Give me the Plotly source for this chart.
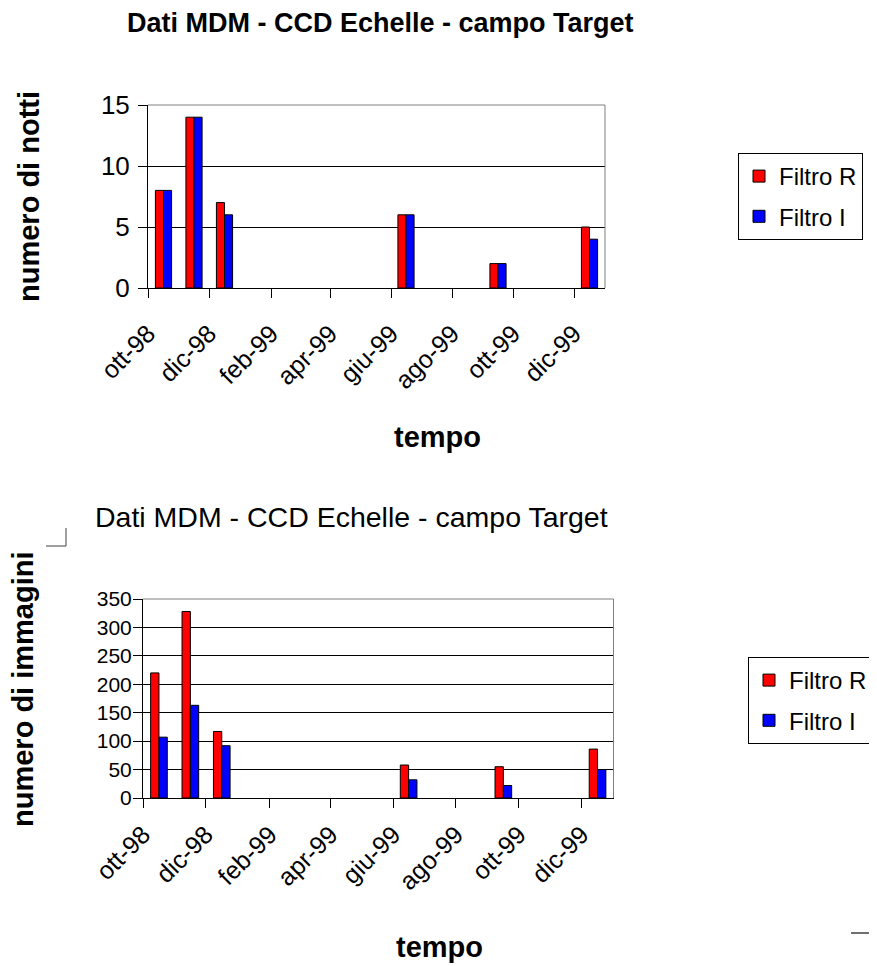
import plotly.graph_objects as go

# the page body adds an 8px margin, so the figure starts at (8, 8) on the page
OFF = 8
W, H = 877 - OFF, 966 - OFF

# ---------------- data ----------------
bar_months = ["1998-10-01", "1998-11-01", "1998-12-01", "1999-06-01", "1999-09-01", "1999-12-01"]
notti_R = [8, 14, 7, 6, 2, 5]
notti_I = [8, 14, 6, 6, 2, 4]
immagini_R = [220, 328, 117, 58, 55, 86]
immagini_I = [107, 163, 92, 32, 22, 50]
tick_dates = ["1998-10-01", "1998-12-01", "1999-02-01", "1999-04-01",
              "1999-06-01", "1999-08-01", "1999-10-01", "1999-12-01"]
tick_labels = ["ott-98", "dic-98", "feb-99", "apr-99", "giu-99", "ago-99", "ott-99", "dic-99"]
series_names = ["Filtro R", "Filtro I"]
series_colors = ["#FF0000", "#0000FF"]
title_text = "Dati MDM - CCD Echelle - campo Target"

FONT = "Liberation Sans, Arial, sans-serif"


def px(x):
    return (x - OFF) / W


def py(y):
    return 1 - (y - OFF) / H


fig = go.Figure()

for vals, name, col in zip([notti_R, notti_I], series_names, series_colors):
    fig.add_trace(go.Bar(
        x=bar_months, y=vals, name=name, xperiod="M1", xperiodalignment="middle",
        marker=dict(color=col, line=dict(color="black", width=1)),
        xaxis="x", yaxis="y", legend="legend", legendgroup="a" + name,
    ))
for vals, name, col in zip([immagini_R, immagini_I], series_names, series_colors):
    fig.add_trace(go.Bar(
        x=bar_months, y=vals, name=name, xperiod="M1", xperiodalignment="middle",
        marker=dict(color=col, line=dict(color="black", width=1)),
        xaxis="x2", yaxis="y2", legend="legend2", legendgroup="b" + name,
    ))

xcommon = dict(
    type="date", range=["1998-10-01", "2000-01-01"], tickmode="array",
    tickvals=tick_dates, ticktext=tick_labels, tickangle=-45,
    ticks="outside", ticklen=9, tickcolor="black", showline=True, linecolor="black",
    linewidth=1, showgrid=False, zeroline=False, automargin=False,
    tickfont=dict(family=FONT, size=25, color="black"),
)
ycommon = dict(
    ticks="outside", ticklen=9, tickcolor="black", showline=True, linecolor="black",
    linewidth=1, showgrid=True, gridcolor="black", gridwidth=1, zeroline=False,
    automargin=False,
)

legend_common = dict(xanchor="left", yanchor="top", bordercolor="black", borderwidth=1,
                     bgcolor="white", font=dict(family=FONT, size=24, color="black"),
                     traceorder="grouped", tracegroupgap=6)

fig.update_layout(
    width=W, height=H, margin=dict(l=0, r=0, t=0, b=0, autoexpand=False),
    paper_bgcolor="white", plot_bgcolor="white",
    barmode="group", bargap=0.47, bargroupgap=0,
    font=dict(family=FONT, color="black"),
    xaxis=dict(domain=[px(148), px(605)], anchor="y", ticklabelstandoff=11, **xcommon),
    yaxis=dict(domain=[py(288), py(105)], anchor="x", range=[0, 15], dtick=5,
               tickfont=dict(family=FONT, size=26, color="black"), ticklabelstandoff=3, **ycommon),
    xaxis2=dict(domain=[px(143), px(613.5)], anchor="y2", ticklabelstandoff=2, **xcommon),
    yaxis2=dict(domain=[py(798), py(599)], anchor="x2", range=[0, 350], dtick=50,
                tickfont=dict(family=FONT, size=21, color="black"), ticklabelstandoff=-3, **ycommon),
    legend=dict(x=px(738), y=py(153), **legend_common),
    legend2=dict(x=px(748), y=py(657), **legend_common),
    showlegend=True,
)

annotations = [
    dict(text="<b>" + title_text + "</b>", x=px(380), y=py(23), font=dict(size=27)),
    dict(text=title_text, x=px(351), y=py(517), font=dict(size=28.5)),
    dict(text="<b>numero di notti</b>", x=px(29), y=py(197), textangle=-90, font=dict(size=29)),
    dict(text="<b>numero di immagini</b>", x=px(23), y=py(689), textangle=-90, font=dict(size=29)),
    dict(text="<b>tempo</b>", x=px(437), y=py(437), font=dict(size=29)),
    dict(text="<b>tempo</b>", x=px(439), y=py(947), font=dict(size=29)),
]
for a in annotations:
    a.update(xref="paper", yref="paper", showarrow=False, xanchor="center", yanchor="middle")
    a["font"].update(family=FONT, color="black")
fig.update_layout(annotations=annotations)

shapes = []
for xr, yr in [("x domain", "y domain"), ("x2 domain", "y2 domain")]:
    shapes.append(dict(type="line", xref=xr, yref=yr, x0=0, x1=1, y0=1, y1=1,
                       line=dict(color="#808080", width=1), layer="above"))
    shapes.append(dict(type="line", xref=xr, yref=yr, x0=1, x1=1, y0=0, y1=1,
                       line=dict(color="#808080", width=1), layer="above"))
# small stray marks present in the original image
shapes.append(dict(type="line", xref="paper", yref="paper", x0=px(66), x1=px(66), y0=py(528), y1=py(546),
                   line=dict(color="#404040", width=1)))
shapes.append(dict(type="line", xref="paper", yref="paper", x0=px(46), x1=px(66), y0=py(546), y1=py(546),
                   line=dict(color="#404040", width=1)))
shapes.append(dict(type="line", xref="paper", yref="paper", x0=px(851), x1=px(871), y0=py(933), y1=py(933),
                   line=dict(color="#404040", width=1.5)))
fig.update_layout(shapes=shapes)

fig.write_html("out.html")
